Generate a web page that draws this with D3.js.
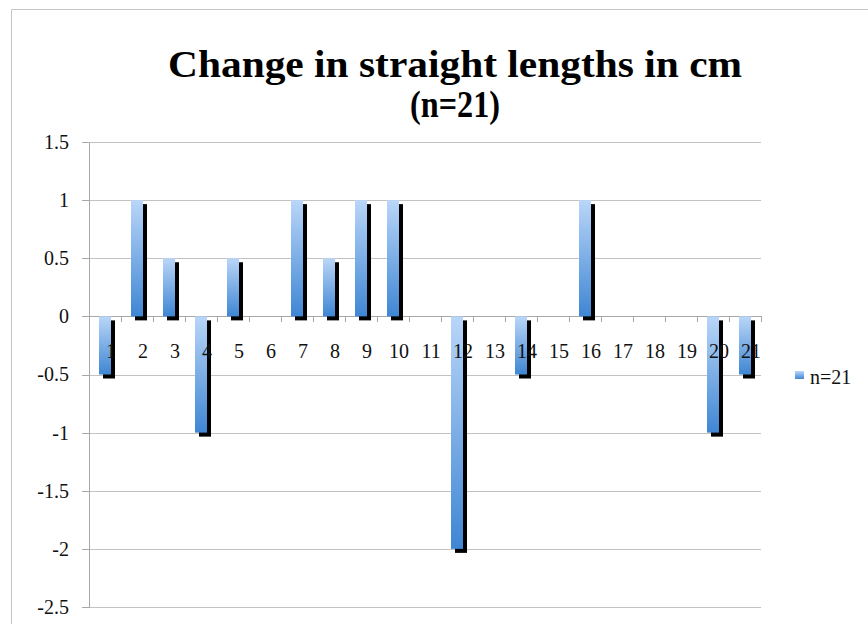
<!DOCTYPE html>
<html>
<head>
<meta charset="utf-8">
<script src="https://cdn.jsdelivr.net/npm/d3@7"></script>
<style>
  html, body { margin: 0; padding: 0; background: #fff; }
  svg { display: block; }
</style>
</head>
<body>
<svg id="chart" width="868" height="624"></svg>
<script>
// ---- data ----
const categories = ["1","2","3","4","5","6","7","8","9","10","11","12","13","14","15","16","17","18","19","20","21"];
const values = [-0.5, 1, 0.5, -1, 0.5, 0, 1, 0.5, 1, 1, 0, -2, 0, -0.5, 0, 1, 0, 0, 0, -1, -0.5];
const yTicks = [1.5, 1, 0.5, 0, -0.5, -1, -1.5, -2, -2.5];
const seriesName = "n=21";
const titleLines = ["Change in straight lengths in cm", "(n=21)"];

// ---- layout ----
const W = 868, H = 624;
const plot = { left: 89, right: 761, top: 142, bottom: 607 };
const serif = "'Liberation Serif', 'Times New Roman', serif";

const svg = d3.select("#chart");

// gradient
const defs = svg.append("defs");
const grad = defs.append("linearGradient").attr("id", "barGrad")
  .attr("x1", 0).attr("y1", 0).attr("x2", 0).attr("y2", 1);
grad.append("stop").attr("offset", "0%").attr("stop-color", "#b9d6f8");
grad.append("stop").attr("offset", "100%").attr("stop-color", "#3f86d4");

// chart border
svg.append("path")
  .attr("d", `M11.5,${H} L11.5,9.5 L${W},9.5`)
  .attr("fill", "none").attr("stroke", "#c4c4c4").attr("stroke-width", 1);

// title
const title = svg.append("text")
  .attr("text-anchor", "middle")
  .attr("font-family", serif)
  .attr("font-weight", "bold")
  .attr("font-size", 37)
  .attr("fill", "#000");
title.append("tspan").attr("x", 455).attr("y", 77)
  .attr("textLength", 574).attr("lengthAdjust", "spacingAndGlyphs").text(titleLines[0]);
title.append("tspan").attr("x", 455).attr("y", 117)
  .attr("textLength", 90).attr("lengthAdjust", "spacingAndGlyphs").text(titleLines[1]);

// scales
const x = d3.scaleBand().domain(categories)
  .range([plot.left, plot.right])
  .paddingInner(0.625).paddingOuter(0.3125);
const xEdge = d3.scaleLinear().domain([0, categories.length]).range([plot.left, plot.right]);
const y = d3.scaleLinear().domain([-2.5, 1.5]).range([plot.bottom, plot.top]);

// gridlines
svg.append("g")
  .attr("transform", `translate(${plot.left},0)`)
  .call(d3.axisLeft(y).tickValues(yTicks).tickSize(-(plot.right - plot.left)).tickFormat(""))
  .call(g => g.select(".domain").remove())
  .call(g => g.selectAll("line").attr("stroke", "#c2c2c2").attr("shape-rendering", "crispEdges"));

// y axis
const fmt = v => (v < 0 ? "-" : "") + String(Math.abs(v));
svg.append("g")
  .attr("transform", `translate(${plot.left},0)`)
  .call(d3.axisLeft(y).tickValues(yTicks).tickSize(7).tickPadding(13).tickFormat(fmt).tickSizeOuter(0))
  .call(g => g.select(".domain").attr("stroke", "#a8a8a8").attr("shape-rendering", "crispEdges"))
  .call(g => g.selectAll(".tick line").attr("stroke", "#a8a8a8").attr("shape-rendering", "crispEdges"))
  .call(g => g.selectAll("text").attr("font-family", serif).attr("font-size", 20).attr("fill", "#111"));

// x axis line with boundary ticks
svg.append("g")
  .attr("transform", `translate(0,${y(0)})`)
  .call(d3.axisBottom(xEdge).tickValues(d3.range(categories.length + 1)).tickSize(6).tickFormat("").tickSizeOuter(0))
  .call(g => g.select(".domain").attr("stroke", "#a8a8a8").attr("shape-rendering", "crispEdges"))
  .call(g => g.selectAll(".tick line").attr("stroke", "#a8a8a8").attr("shape-rendering", "crispEdges"));

// bars: shadow then bar
const barsG = svg.append("g");
const data = categories.map((c, i) => ({ c, v: values[i] }));
barsG.selectAll("rect.shadow").data(data).join("rect")
  .attr("class", "shadow")
  .attr("x", d => x(d.c) + 4)
  .attr("y", d => Math.min(y(d.v), y(0)) + 4)
  .attr("width", x.bandwidth())
  .attr("height", d => Math.abs(y(d.v) - y(0)))
  .attr("fill", "#000");
barsG.selectAll("rect.bar").data(data).join("rect")
  .attr("class", "bar")
  .attr("x", d => x(d.c))
  .attr("y", d => Math.min(y(d.v), y(0)))
  .attr("width", x.bandwidth())
  .attr("height", d => Math.abs(y(d.v) - y(0)))
  .attr("fill", "url(#barGrad)");

// category labels
svg.append("g")
  .attr("transform", `translate(${x.bandwidth() / 2 - 0},${y(0)})`)
  .call(d3.axisBottom(x).tickSize(0).tickPadding(27.5))
  .call(g => g.select(".domain").remove())
  .call(g => g.selectAll("text").attr("font-family", serif).attr("font-size", 20).attr("fill", "#111"));

// legend
const lg = svg.append("g");
lg.append("rect").attr("x", 795).attr("y", 371).attr("width", 9).attr("height", 8).attr("fill", "url(#barGrad)");
lg.append("text").attr("x", 810).attr("y", 384)
  .attr("font-family", serif).attr("font-size", 20).attr("fill", "#111").text(seriesName);
</script>
</body>
</html>
